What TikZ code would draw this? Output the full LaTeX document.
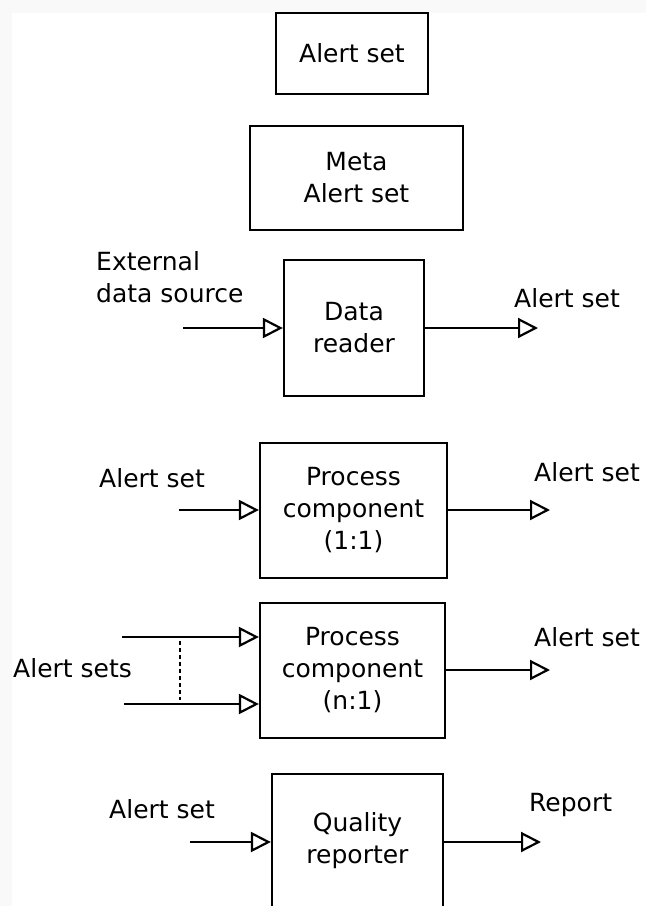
\documentclass[tikz,border=0pt]{standalone}
\usepackage{fontspec}
\setmainfont{DejaVu Sans}
\usetikzlibrary{arrows.meta}
\begin{document}
\begin{tikzpicture}[x=1pt,y=-1pt,
  box/.style={draw, line width=2.2pt, align=center, inner sep=0pt, font=\fontsize{25}{32}\selectfont},
  lbl/.style={anchor=west, inner sep=0pt, align=left, font=\fontsize{25}{32}\selectfont},
  arr/.style={line width=2.2pt, -{Triangle[open, length=20pt, width=20pt, line width=2.2pt]}},
  dotline/.style={line width=2pt, dash pattern=on 3.5pt off 3.5pt},
]
\useasboundingbox (0,0) rectangle (646,906);
\fill[gray!5] (0,0) rectangle (646,906);
\fill[white] (12,13) rectangle (646,906);

% boxes
\node[box, minimum width=152pt, minimum height=81pt] (as) at (352,53.5) {Alert set};
\node[box, minimum width=213pt, minimum height=104pt] (meta) at (356.5,178) {Meta\\Alert set};
\node[box, minimum width=140pt, minimum height=136pt] (dr) at (354,328) {Data\\reader};
\node[box, minimum width=187pt, minimum height=135pt] (pc1) at (353.5,510.5) {Process\\component\\(1:1)};
\node[box, minimum width=185pt, minimum height=135pt] (pcn) at (352.5,670.5) {Process\\component\\(n:1)};
\node[box, minimum width=171pt, minimum height=134pt] (qr) at (357.5,841) {Quality\\reporter};

% labels
\node[lbl] (ext) at (96,277.5) {External\\data source};
\node[lbl] (drout) at (514,298) {Alert set};
\node[lbl] (pc1in) at (99,478) {Alert set};
\node[lbl] (pc1out) at (534,472) {Alert set};
\node[lbl] (pcnin) at (13,668) {Alert sets};
\node[lbl] (pcnout) at (534,637) {Alert set};
\node[lbl] (qrin) at (109,809) {Alert set};
\node[lbl] (qrout) at (529,805) {Report};

% connector end points
\coordinate (drA) at (183,328);
\coordinate (drB) at (538,328);
\coordinate (pc1A) at (179,510);
\coordinate (pc1B) at (550,510);
\coordinate (pcnA) at (122,637);
\coordinate (pcnC) at (124,704);
\coordinate (pcnB) at (550,670);
\coordinate (qrA) at (190,842);
\coordinate (qrB) at (541,842);
\coordinate (dotA) at (180,641);
\coordinate (dotB) at (180,700);

% connectors
\draw[arr] (drA) -- (drA -| dr.west);
\draw[arr] (dr.east |- drB) -- (drB);
\draw[arr] (pc1A) -- (pc1A -| pc1.west);
\draw[arr] (pc1.east |- pc1B) -- (pc1B);
\draw[arr] (pcnA) -- (pcnA -| pcn.west);
\draw[arr] (pcnC) -- (pcnC -| pcn.west);
\draw[arr] (pcn.east |- pcnB) -- (pcnB);
\draw[dotline] (dotA) -- (dotB);
\draw[arr] (qrA) -- (qrA -| qr.west);
\draw[arr] (qr.east |- qrB) -- (qrB);
\end{tikzpicture}
\end{document}
